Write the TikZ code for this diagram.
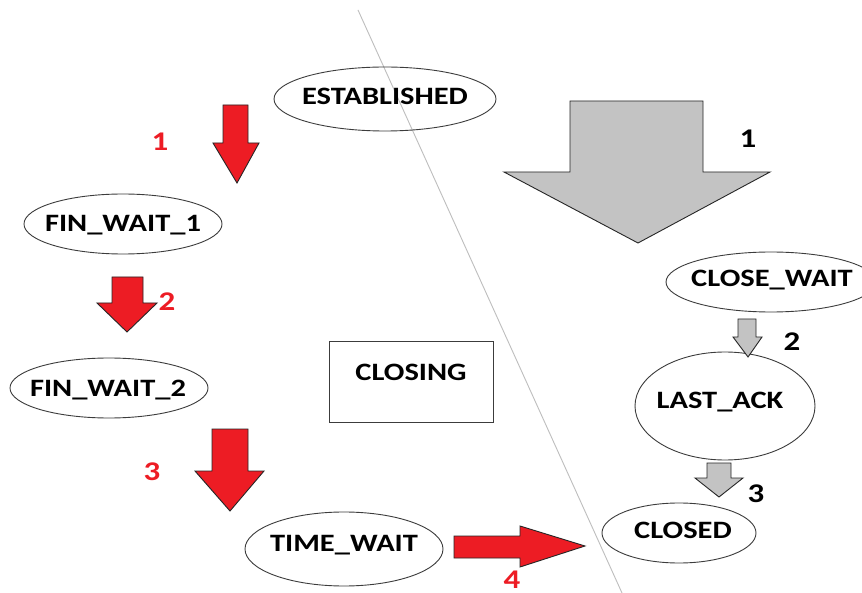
\documentclass[tikz,border=0pt]{standalone}
\usepackage{fontspec}
\setmainfont{Carlito}[FakeStretch=1.22]
\usetikzlibrary{shapes.geometric}
\definecolor{arrowred}{RGB}{237,28,36}
\definecolor{arrowgray}{RGB}{195,195,195}
\definecolor{rimgray}{RGB}{60,60,60}
\definecolor{divider}{RGB}{190,190,190}
\begin{document}
\begin{tikzpicture}[x=1pt,y=-1pt,
  state/.style={draw=rimgray,line width=0.9pt,ellipse,inner sep=0pt},
  boxstate/.style={draw=rimgray,line width=1pt,rectangle,inner sep=0pt},
  lbl/.style={font=\fontsize{25}{25}\selectfont\bfseries,inner sep=0pt,anchor=base},
  num/.style={font=\fontsize{27}{27}\selectfont\bfseries,inner sep=0pt},
  rednum/.style={num,text=arrowred},
  blacknum/.style={num,text=black},
  redarrow/.style={fill=arrowred,draw=black!85,line width=0.9pt,line join=miter},
  grayarrow/.style={fill=arrowgray,draw=black!85,line width=0.9pt,line join=miter}]
\useasboundingbox (0,0) rectangle (862,593);
\fill[white] (0,0) rectangle (862,593);

% dividing line between the two sides
\coordinate (divtop) at (358,10);
\coordinate (divbot) at (622,593);
\draw[divider,line width=0.9pt] (divtop) -- (divbot);

% states
\node[state,minimum width=222pt,minimum height=64pt] (est) at (385,99) {};
\node[state,minimum width=198pt,minimum height=60pt] (fw1) at (123,224) {};
\node[state,minimum width=198pt,minimum height=60pt] (fw2) at (109,388) {};
\node[state,minimum width=198pt,minimum height=74pt] (tw) at (344,549) {};
\node[state,minimum width=210pt,minimum height=60pt] (cw) at (771,282) {};
\node[state,minimum width=180pt,minimum height=108pt] (la) at (725,406) {};
\node[state,minimum width=154pt,minimum height=60pt] (cl) at (679,533) {};
\node[boxstate,minimum width=164pt,minimum height=80pt] (cg) at (411,382) {};

% state names
\node[lbl] (est-t) at (385,105) {ESTABLISHED};
\node[lbl] (fw1-t) at (123,232) {FIN\_WAIT\_1};
\node[lbl] (fw2-t) at (108,396) {FIN\_WAIT\_2};
\node[lbl] (tw-t) at (344,551) {TIME\_WAIT};
\node[lbl] (cw-t) at (772,287) {CLOSE\_WAIT};
\node[lbl] (la-t) at (720,408) {LAST\_ACK};
\node[lbl] (cl-t) at (683,538) {CLOSED};
\node[lbl] (cg-t) at (411,381) {CLOSING};

% active close: red block arrows
\draw[redarrow] (223,105) -- (248,105) -- (248,143) -- (259,143) -- (237,183)
  -- (213,143) -- (223,143) -- cycle;
\draw[redarrow] (112,277) -- (143,277) -- (143,303) -- (157,303) -- (127,332)
  -- (97,303) -- (112,303) -- cycle;
\draw[redarrow] (212,429) -- (248,429) -- (248,471) -- (264,471) -- (230,511)
  -- (195,471) -- (212,471) -- cycle;
\draw[redarrow] (454,536) -- (520,536) -- (520,526) -- (585,546) -- (520,567)
  -- (520,558) -- (454,558) -- cycle;

% passive close: gray block arrows
\draw[grayarrow] (570,101) -- (703,101) -- (703,172) -- (770,172) -- (638,243)
  -- (504,172) -- (570,172) -- cycle;
\draw[grayarrow] (738,319) -- (756,319) -- (756,337) -- (762,337) -- (748,357)
  -- (733,337) -- (738,337) -- cycle;
\draw[grayarrow] (707,463) -- (731,463) -- (731,478) -- (743,478) -- (719,497)
  -- (695,478) -- (707,478) -- cycle;

% step numbers
\node[rednum] (r1) at (160,142) {1};
\node[rednum] (r2) at (167,302) {2};
\node[rednum] (r3) at (152,472) {3};
\node[rednum] (r4) at (512,580) {4};
\node[blacknum] (b1) at (748,139) {1};
\node[blacknum] (b2) at (792,342) {2};
\node[blacknum] (b3) at (756,494) {3};
\end{tikzpicture}
\end{document}
